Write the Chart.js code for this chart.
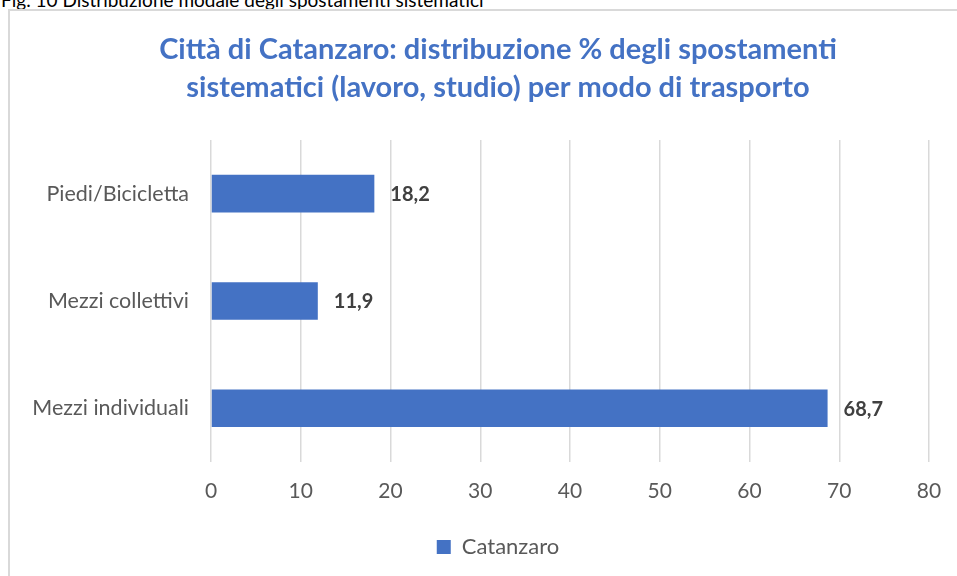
<!DOCTYPE html>
<html>
<head>
<meta charset="utf-8">
<script src="https://cdn.jsdelivr.net/npm/chart.js@4.4.0/dist/chart.umd.min.js"></script>
<style>
  body { margin: 0; width: 957px; height: 576px; overflow: hidden; background: #fff; position: relative; font-family: Lato, sans-serif; }
  #caption { position: absolute; left: 1px; top: -10px; font-size: 19px; line-height: 1; color: #000; white-space: nowrap; }
  #frame { position: absolute; left: 8px; top: 9px; width: 1000px; height: 600px; border-left: 2px solid #d9d9d9; border-top: 2px solid #d9d9d9; }
  #chart { position: absolute; left: 0; top: 0; }
</style>
</head>
<body>
<div id="caption">Fig. 10 Distribuzione modale degli spostamenti sistematici</div>
<div id="frame"><canvas id="chart" width="976" height="565"></canvas></div>
<script>
// chart data
const categories = ['Piedi/Bicicletta', 'Mezzi collettivi', 'Mezzi individuali'];
const catanzaroValues = [18.2, 11.9, 68.7];
const seriesName = 'Catanzaro';
const titleLines = [
  'Città di Catanzaro: distribuzione % degli spostamenti',
  'sistematici (lavoro, studio) per modo di trasporto'
];
const axisMin = 0;
const axisMax = 80;
const axisStep = 10;

const BLUE = '#4472C4';
const GREY_TEXT = '#595959';
const GRID = '#d9d9d9';

// draws the "18,2" style labels at the end of each bar
const valueLabels = {
  id: 'valueLabels',
  afterDatasetsDraw(chart) {
    const ctx = chart.ctx;
    const meta = chart.getDatasetMeta(0);
    const values = chart.data.datasets[0].data;
    ctx.save();
    ctx.font = 'bold 20px Lato';
    ctx.fillStyle = '#404040';
    ctx.textAlign = 'left';
    ctx.textBaseline = 'middle';
    meta.data.forEach((bar, i) => {
      ctx.fillText(values[i].toFixed(1).replace('.', ','), bar.x + 16, bar.y + 1);
    });
    ctx.restore();
  }
};

function draw() {
  new Chart(document.getElementById('chart'), {
    type: 'bar',
    data: {
      labels: categories,
      datasets: [{
        label: seriesName,
        data: catanzaroValues,
        backgroundColor: BLUE,
        borderWidth: 0,
        barPercentage: 0.35,
        categoryPercentage: 1
      }]
    },
    options: {
      indexAxis: 'y',
      responsive: false,
      animation: false,
      layout: { padding: { left: 0, right: 0, top: 0, bottom: 8 } },
      scales: {
        x: {
          min: axisMin,
          max: axisMax,
          ticks: { stepSize: axisStep, color: GREY_TEXT, font: { family: 'Lato', size: 21 }, padding: 17 },
          grid: { color: GRID, lineWidth: 1.5, drawTicks: false },
          border: { display: false }
        },
        y: {
          ticks: { color: GREY_TEXT, font: { family: 'Lato', size: 21.5 }, padding: 14 },
          grid: { display: false },
          border: { display: false },
          afterFit(scale) { scale.width = 201; }
        },
        // empty right-hand axis, only keeps space on the right of the plot
        spacer: {
          type: 'linear',
          position: 'right',
          ticks: { display: false },
          grid: { display: false },
          border: { display: false },
          afterFit(scale) { scale.width = 57; }
        }
      },
      plugins: {
        title: {
          display: true,
          text: titleLines,
          color: BLUE,
          font: { family: 'Lato', size: 29, weight: 'bold', lineHeight: 38 / 29 },
          padding: { top: 20, bottom: 33 }
        },
        legend: {
          position: 'bottom',
          labels: {
            boxWidth: 14,
            boxHeight: 14,
            color: GREY_TEXT,
            font: { family: 'Lato', size: 22 },
            padding: 15
          }
        },
        tooltip: { enabled: false }
      }
    },
    plugins: [valueLabels]
  });
}

document.fonts.load('21px Lato').then(() => document.fonts.load('bold 21px Lato')).then(draw, draw);
</script>
</body>
</html>
